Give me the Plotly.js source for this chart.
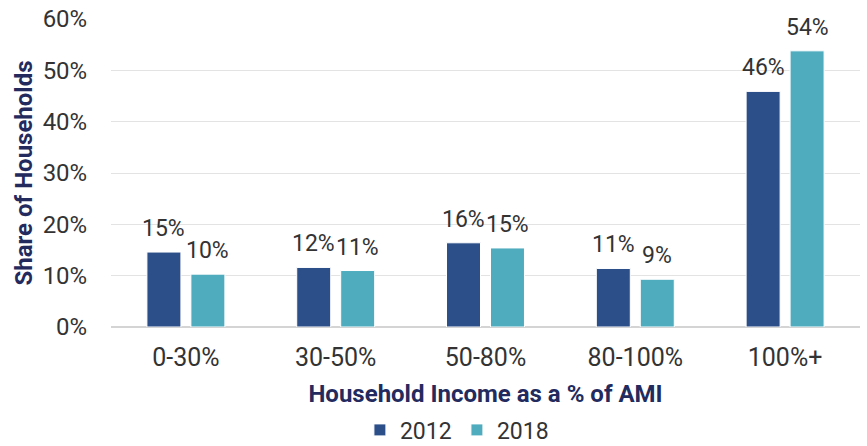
<!DOCTYPE html>
<html>
<head>
<meta charset="utf-8">
<script src="https://cdn.plot.ly/plotly-3.0.1.min.js"></script>
<style>html,body{margin:0;padding:0;background:#fff;}#chart{width:867px;height:446px;}</style>
</head>
<body>
<div id="chart"></div>
<script>
const categories = ["0-30%", "30-50%", "50-80%", "80-100%", "100%+"];
const series2012 = [14.6, 11.6, 16.4, 11.4, 45.9];
const series2018 = [10.3, 11.0, 15.4, 9.3, 53.8];
const seriesNames = ["2012", "2018"];
const yTickVals = [0, 10, 20, 30, 40, 50, 60];
const yTickText = ["0%", "10%", "20%", "30%", "40%", "50%", "60%"];

const navy = "#2C4F8A";
const teal = "#4FACBF";
const titleColor = "#232B5E";
const textColor = "#333333";
const FONT = "Roboto, sans-serif";

const traces = [
  {type: "bar", name: seriesNames[0], x: categories, y: series2012,
   marker: {color: navy, line: {color: "#ffffff", width: 1}}, hoverinfo: "none"},
  {type: "bar", name: seriesNames[1], x: categories, y: series2018,
   marker: {color: teal, line: {color: "#ffffff", width: 1}}, hoverinfo: "none"}
];

const annotations = [];
[series2012, series2018].forEach((s, si) => {
  s.forEach((v, i) => {
    annotations.push({
      x: categories[i], y: v, xref: "x", yref: "y",
      text: Math.round(v) + "%", showarrow: false,
      yanchor: "bottom", yshift: 8, xshift: si === 0 ? -22 : 22,
      font: {family: FONT, size: 23, color: textColor}
    });
  });
});

const layout = {
  width: 867, height: 446,
  margin: {l: 111, r: 7, t: 19, b: 119},
  paper_bgcolor: "#ffffff", plot_bgcolor: "#ffffff",
  font: {family: FONT, size: 24, color: textColor},
  barmode: "group", bargap: 0.413, bargroupgap: 0.227,
  showlegend: true,
  legend: {orientation: "h", x: 0.527, xanchor: "center", xref: "container",
           y: 0.036, yanchor: "middle", yref: "container",
           entrywidth: 52, entrywidthmode: "pixels",
           font: {size: 23, color: textColor}, traceorder: "normal"},
  xaxis: {
    type: "category", tickfont: {size: 25, color: textColor},
    ticks: "outside", ticklen: 8, tickcolor: "rgba(0,0,0,0)",
    showline: false, showgrid: false, automargin: false,
    title: {text: "Household Income as a % of AMI", standoff: 16,
            font: {size: 24, color: titleColor, family: FONT, weight: "bold"}}
  },
  yaxis: {
    range: [0, 60], tickvals: yTickVals, ticktext: yTickText,
    tickfont: {size: 24, color: textColor},
    ticks: "outside", ticklen: 18, tickcolor: "rgba(0,0,0,0)",
    showgrid: true, gridcolor: "#e3e3e3", gridwidth: 1,
    zeroline: true, zerolinecolor: "#d4d4d4", zerolinewidth: 1.5,
    automargin: false,
    title: {text: "Share of Households", standoff: 3,
            font: {size: 24, color: titleColor, family: FONT, weight: "bold"}}
  },
  annotations: annotations
};

Plotly.newPlot("chart", traces, layout, {displayModeBar: false, staticPlot: true});
</script>
</body>
</html>
